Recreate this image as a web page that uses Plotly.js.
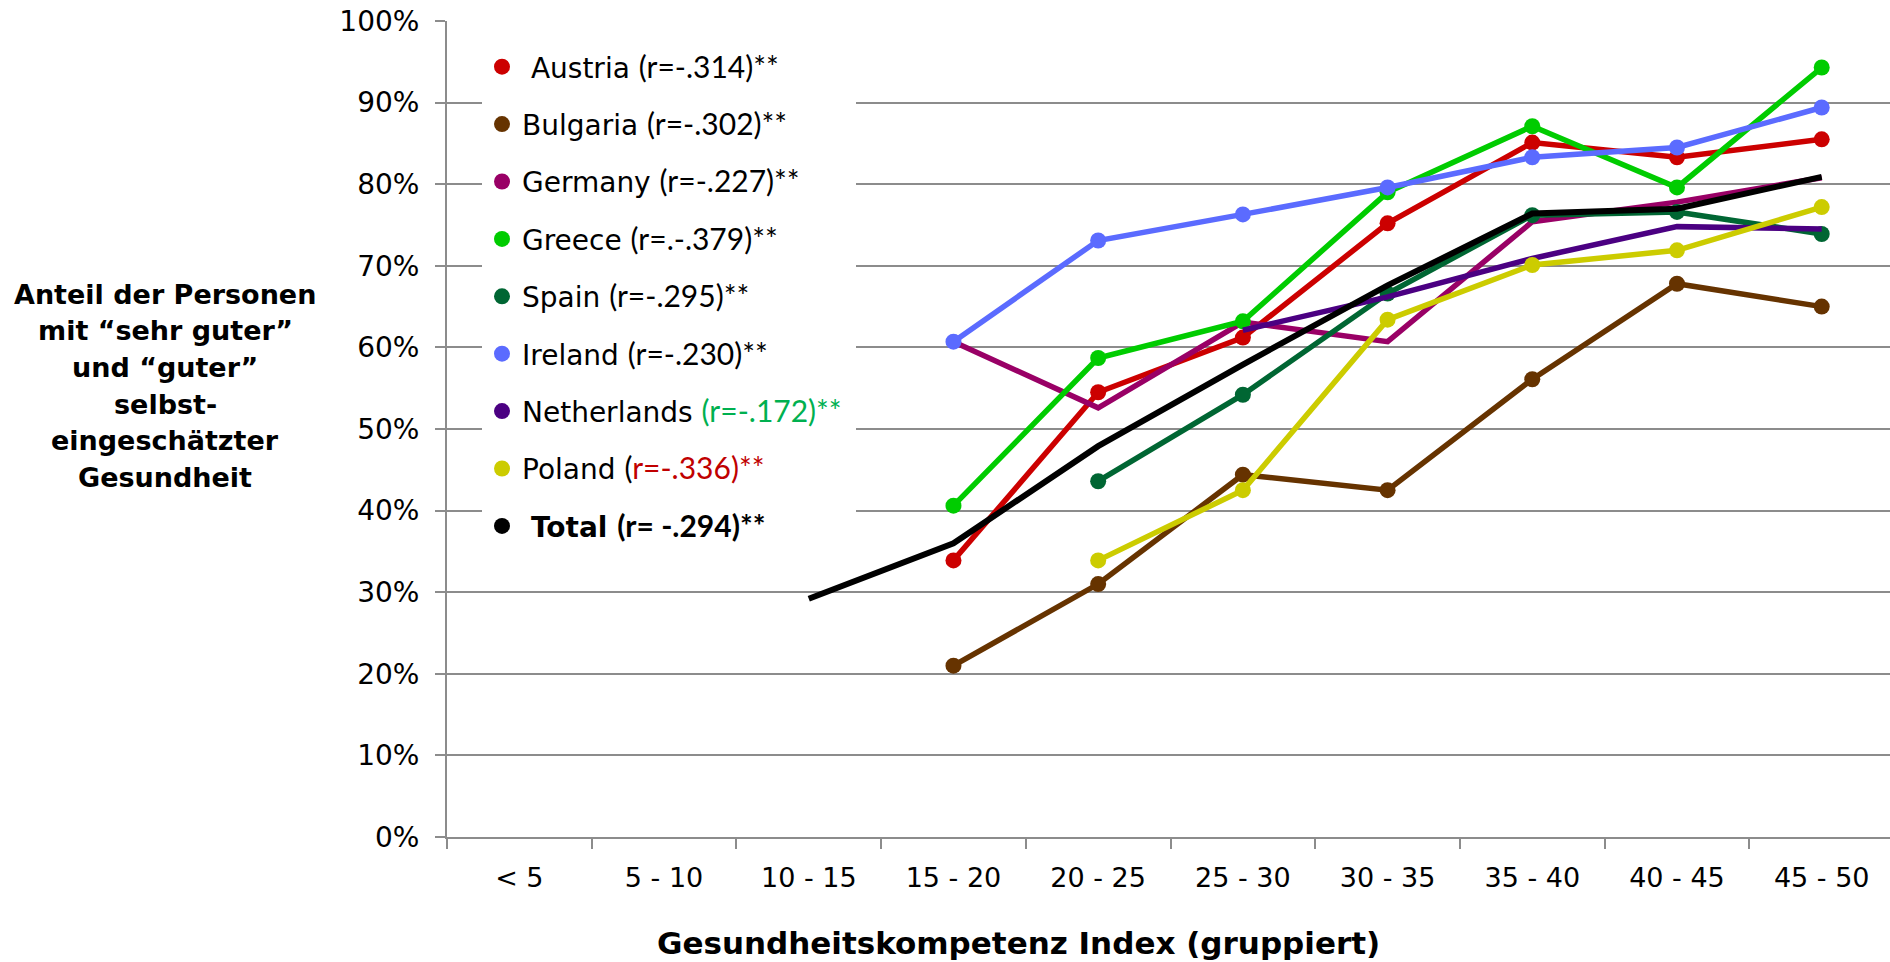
<!DOCTYPE html>
<html>
<head>
<meta charset="utf-8">
<script src="https://cdn.plot.ly/plotly-3.0.1.min.js"></script>
<style>
html,body{margin:0;padding:0;background:#fff;}
#chart{width:1890px;height:962px;}
</style>
</head>
<body>
<div id="chart"></div>
<script>
// ---------- data ----------
const categories = ["< 5","5 - 10","10 - 15","15 - 20","20 - 25","25 - 30","30 - 35","35 - 40","40 - 45","45 - 50"];

const austria     = [null,null,null,33.9,54.5,61.2,75.2,85.1,83.3,85.5];
const bulgaria    = [null,null,null,21.0,31.0,44.4,42.5,56.1,67.8,65.0];
const germany     = [null,null,null,60.7,52.6,63.1,60.7,75.4,77.8,80.8];
const greece      = [null,null,null,40.6,58.7,63.2,79.0,87.1,79.6,94.3];
const spain       = [null,null,null,null,43.6,54.2,66.6,76.2,76.6,73.9];
const ireland     = [null,null,null,60.7,73.1,76.3,79.6,83.3,84.5,89.4];
const netherlands = [null,null,null,null,null,62.1,66.2,70.9,74.8,74.5];
const poland      = [null,null,null,null,33.9,42.5,63.4,70.1,71.9,77.2];
const total       = [null,null,29.2,36.0,47.9,57.9,67.6,76.4,77.0,80.9];

const countryNames = ["Austria","Bulgaria","Germany","Greece","Spain","Ireland","Netherlands","Poland","Total"];
const rLabels      = ["(r=-.314)**","(r=-.302)**","(r=-.227)**","(r=.-.379)**","(r=-.295)**","(r=-.230)**","(r=-.172)**","(r=-.336)**","(r= -.294)**"];

const yTitleLines = ["Anteil der Personen","mit \u201Csehr guter\u201D","und \u201Cguter\u201D","selbst-","eingesch\u00E4tzter","Gesundheit"];
const xTitleText  = "Gesundheitskompetenz Index (gruppiert)";

// ---------- styles ----------
const seriesValues = [austria,bulgaria,germany,greece,spain,ireland,netherlands,poland,total];
const colors  = ["#cc0000","#663300","#990066","#00cc00","#006633","#5b6bff","#4b0082","#cccc00","#000000"];
const markers = [true,true,false,true,true,true,false,true,false];
const widths  = [5.5,5.5,5.5,5.5,5.5,5.5,5.5,5.5,6];

const LATO = 'font-family:Lato;font-size:30px;';
function legendLabel(i){
  const n = countryNames[i], r = rLabels[i];
  if (n === "Austria") return "\u00A0" + n + " <span style=\"" + LATO + "\">" + r + "</span>";
  if (n === "Netherlands") return n + " <span style=\"" + LATO + "color:#00b050\">" + r + "</span>\u00A0";
  if (n === "Poland") return n + " <span style=\"" + LATO + "\">" + r.slice(0,1) + "</span><span style=\"" + LATO + "color:#c00000\">" + r.slice(1) + "</span>";
  if (n === "Total") return "\u00A0<b>" + n + " <span style=\"" + LATO + "\">" + r + "</span></b>";
  return n + " <span style=\"" + LATO + "\">" + r + "</span>";
}

// ---------- geometry ----------
const W = 1890, H = 962, ML = 447, MT = 21, MB = 125;
const PW = W - ML, PH = H - MT - MB;
const px2x = p => (p - ML) / PW;
const px2y = p => (MT + PH - p) / PH;

const traces = [];
seriesValues.forEach((vals, i) => {
  traces.push({
    type: 'scatter',
    mode: markers[i] ? 'lines+markers' : 'lines',
    x: categories, y: vals,
    name: countryNames[i],
    showlegend: false,
    connectgaps: false,
    line: {color: colors[i], width: widths[i]},
    marker: {color: colors[i], size: 16},
    hoverinfo: 'skip'
  });
});
seriesValues.forEach((vals, i) => {
  traces.push({
    type: 'scatter', mode: 'markers',
    x: [null], y: [null],
    name: legendLabel(i),
    legendgroup: 'g' + i,
    showlegend: true,
    marker: {color: colors[i], size: 18},
    hoverinfo: 'skip'
  });
});

const annotations = [];
const yTitleCenters = [294, 330.7, 367.3, 404, 440.7, 477.3];
yTitleLines.forEach((t, i) => {
  annotations.push({
    xref: 'paper', yref: 'paper',
    x: px2x(165), y: px2y(yTitleCenters[i]),
    xanchor: 'center', yanchor: 'middle',
    text: '<b>' + t + '</b>', showarrow: false,
    font: {family: 'DejaVu Sans', size: 27, color: '#000'}
  });
});
annotations.push({
  xref: 'paper', yref: 'paper',
  x: px2x(1018), y: px2y(943),
  xanchor: 'center', yanchor: 'middle',
  text: '<b>' + xTitleText + '</b>', showarrow: false,
  font: {family: 'DejaVu Sans', size: 31, color: '#000'}
});

const gridC = '#8c8c8c';
const layout = {
  width: W, height: H,
  margin: {l: ML, r: 0, t: MT, b: MB, pad: 0},
  paper_bgcolor: '#ffffff', plot_bgcolor: '#ffffff',
  font: {family: 'DejaVu Sans', size: 27, color: '#000'},
  showlegend: true,
  legend: {
    x: px2x(482), y: px2y(42), xanchor: 'left', yanchor: 'top',
    bgcolor: '#ffffff', borderwidth: 0,
    font: {family: 'DejaVu Sans', size: 28, color: '#000'},
    traceorder: 'grouped', tracegroupgap: 18,
    itemclick: false, itemdoubleclick: false
  },
  xaxis: {
    type: 'category', categoryorder: 'array', categoryarray: categories,
    range: [-0.5, 9.472],
    showline: true, linecolor: gridC, linewidth: 2,
    ticks: 'outside', tickson: 'boundaries', ticklen: 10, tickwidth: 2, tickcolor: gridC,
    showgrid: false, zeroline: false,
    tickfont: {family: 'DejaVu Sans', size: 27, color: '#000'},
    ticklabelstandoff: 16, fixedrange: true
  },
  yaxis: {
    range: [0, 100], tick0: 0, dtick: 10, ticksuffix: '%',
    showline: true, linecolor: gridC, linewidth: 2,
    ticks: 'outside', ticklen: 10, tickwidth: 2, tickcolor: gridC,
    showgrid: true, gridcolor: gridC, gridwidth: 2, zeroline: false,
    tickfont: {family: 'DejaVu Sans', size: 28, color: '#000'},
    ticklabelstandoff: 10, fixedrange: true
  },
  annotations: annotations
};

Plotly.newPlot('chart', traces, layout, {displayModeBar: false, staticPlot: true});
</script>
</body>
</html>
